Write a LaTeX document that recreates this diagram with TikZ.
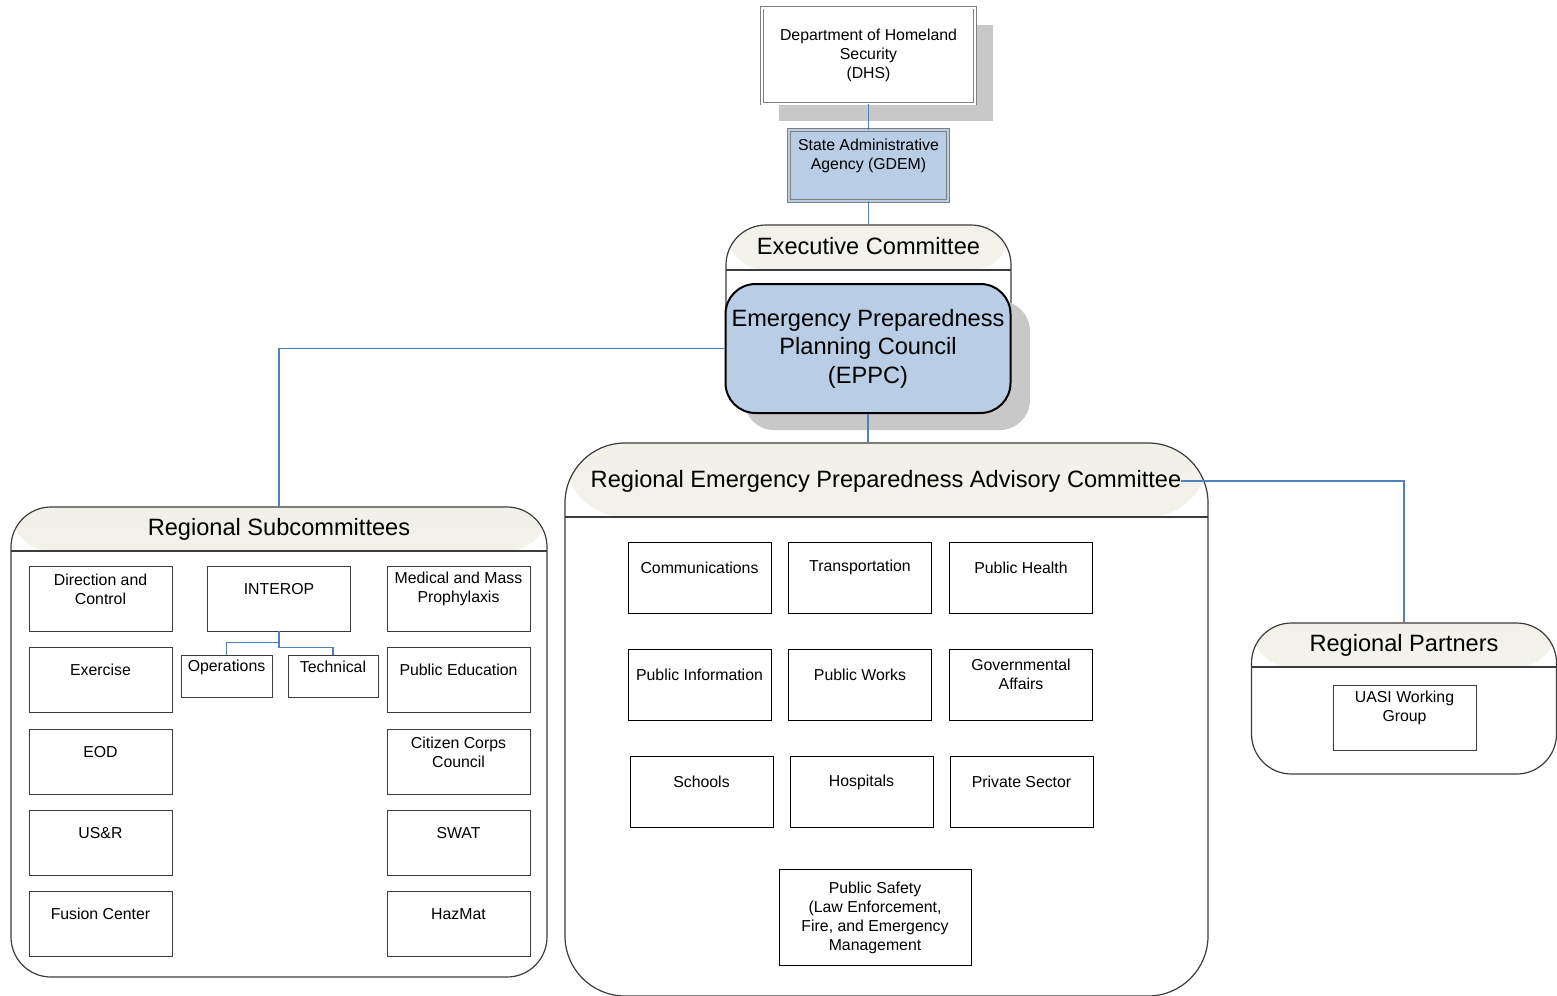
\documentclass[tikz,border=0pt]{standalone}
\usepackage{fontspec}
\setmainfont{Liberation Sans}
\definecolor{linkblue}{RGB}{79,129,189}
\definecolor{fillblue}{RGB}{185,205,229}
\definecolor{shadowgray}{RGB}{200,200,200}
\definecolor{hdtop}{RGB}{241,241,233}
\definecolor{hdbot}{RGB}{251,251,248}
\definecolor{edge}{RGB}{60,60,60}
\begin{document}
\begin{tikzpicture}[x=1bp,y=1bp,yscale=-1,
  small/.style={font=\fontsize{15.9}{19}\selectfont},
  big/.style={font=\fontsize{23.7}{28.5}\selectfont},
  box/.style={draw=black, line width=0.9bp, fill=white, inner sep=0, minimum width=143bp, minimum height=65bp},
  gbox/.style={box, draw=edge},
  lbl/.style={small, align=center, anchor=center, inner sep=0},
  cap/.style={label={[lbl,yshift=-23.5bp]north:#1}},
  rcap/.style={label={[lbl,yshift=-26bp]north:#1}},
  panel/.style={draw=edge, line width=1.2bp, fill=white, inner sep=0},
  head/.style={path picture={
    \shade[top color=hdtop, bottom color=hdbot] (path picture bounding box.north west) rectangle ([yshift=-#1bp]path picture bounding box.north east);
    \draw[edge, line width=1.2bp] ([yshift=-#1bp]path picture bounding box.north west) -- ([yshift=-#1bp]path picture bounding box.north east);}},
  ttl/.style={big, inner sep=0},
  link/.style={draw=linkblue, line width=1.1bp}]

\useasboundingbox (0,0) rectangle (1557,995);

% top of the chart
\fill[shadowgray] (779,25) rectangle (993,121);
\node[box, draw=gray, double=white, double distance=2bp, minimum width=213bp, minimum height=96bp, small, align=center] (dhs) at (868.5,55.5) {Department of Homeland\\Security\\(DHS)};
\node[box, draw=gray, fill=fillblue, double=fillblue, double distance=2bp, minimum width=159bp, minimum height=71bp, label={[lbl,yshift=-26.5bp]north:State Administrative\\Agency (GDEM)}] (saa) at (868.5,165.5) {};

\node[panel, rounded corners=40bp, head=45, minimum width=285bp, minimum height=175bp] (exec) at (868.5,312.5) {};
\node[ttl] (exect) at (868.5,246.5) {Executive Committee};
\fill[shadowgray, rounded corners=30bp] (744,301) rectangle (1030,430);
\node[draw=black, line width=2bp, fill=fillblue, rounded corners=30bp, minimum width=285bp, minimum height=129bp, inner sep=0, big, align=center] (eppc) at (868,348.5) {Emergency Preparedness\\Planning Council\\(EPPC)};

% regional subcommittees
\node[panel, rounded corners=40bp, head=44, minimum width=536bp, minimum height=470bp] (subc) at (279,742) {};
\node[ttl] (subct) at (279,529) {Regional Subcommittees};
\node[gbox, cap={Direction and\\Control}] (dirc) at (100.5,598.5) {};
\node[gbox, cap={Exercise}] (exer) at (100.5,679.5) {};
\node[gbox, cap={EOD}] (eod) at (100.5,761.5) {};
\node[gbox, cap={US\&R}] (usr) at (100.5,842.5) {};
\node[gbox, cap={Fusion Center}] (fusion) at (100.5,923.5) {};
\node[gbox, cap={INTEROP}] (interop) at (279,598.5) {};
\node[gbox, minimum width=91bp, minimum height=42bp, label={[lbl,yshift=-13bp]north:Operations}] (ops) at (226.5,676) {};
\node[gbox, minimum width=90bp, minimum height=42bp, label={[lbl,yshift=-12bp]north:Technical}] (tech) at (333,676) {};
\node[gbox, cap={Medical and Mass\\Prophylaxis}] (medic) at (458.5,598.5) {};
\node[gbox, cap={Public Education}] (pubed) at (458.5,679.5) {};
\node[gbox, cap={Citizen Corps\\Council}] (citizen) at (458.5,761.5) {};
\node[gbox, cap={SWAT}] (swat) at (458.5,842.5) {};
\node[gbox, cap={HazMat}] (hazmat) at (458.5,923.5) {};

% advisory committee
\node[panel, rounded corners=60bp, head=74, minimum width=643bp, minimum height=553bp] (repac) at (886.5,719.5) {};
\node[ttl] (repact) at (886,481) {Regional Emergency Preparedness Advisory Committee};
\node[box, minimum height=71bp, rcap={Communications}] (comms) at (699.5,577.5) {};
\node[box, minimum height=71bp, rcap={Transportation}] (transp) at (860,577.5) {};
\node[box, minimum height=71bp, rcap={Public Health}] (pubhealth) at (1021,577.5) {};
\node[box, minimum height=71bp, rcap={Public Information}] (pubinfo) at (699.5,684.5) {};
\node[box, minimum height=71bp, rcap={Public Works}] (pubworks) at (860,684.5) {};
\node[box, minimum height=71bp, rcap={Governmental\\Affairs}] (govaff) at (1021,684.5) {};
\node[box, minimum height=71bp, rcap={Schools}] (schools) at (701.5,792) {};
\node[box, minimum height=71bp, rcap={Hospitals}] (hosp) at (861.5,792) {};
\node[box, minimum height=71bp, rcap={Private Sector}] (private) at (1021.5,792) {};
\node[box, minimum width=192bp, minimum height=96bp, small, align=center] (pubsafe) at (875,917.5) {Public Safety\\(Law Enforcement,\\Fire, and Emergency\\Management};

% regional partners
\node[panel, rounded corners=40bp, head=44, minimum width=305bp, minimum height=151bp] (partn) at (1404,698.5) {};
\node[ttl] (partnt) at (1404,645.5) {Regional Partners};
\node[gbox, cap={UASI Working\\Group}] (uasi) at (1404.5,717.5) {};

% connectors
\draw[link] (dhs.south) -- (saa.north);
\draw[link] (saa.south) -- (saa.south |- exec.north);
\draw[link] (eppc.west) -| (subc.north);
\draw[link] (eppc.south) -- (eppc.south |- repac.north);
\draw[link] (repact.east) -| (partn.north);
\draw[link] (interop.south) -- ++(0,11) -| (ops.north);
\draw[link] (interop.south) -- ++(0,16) -| (tech.north);

\end{tikzpicture}
\end{document}
